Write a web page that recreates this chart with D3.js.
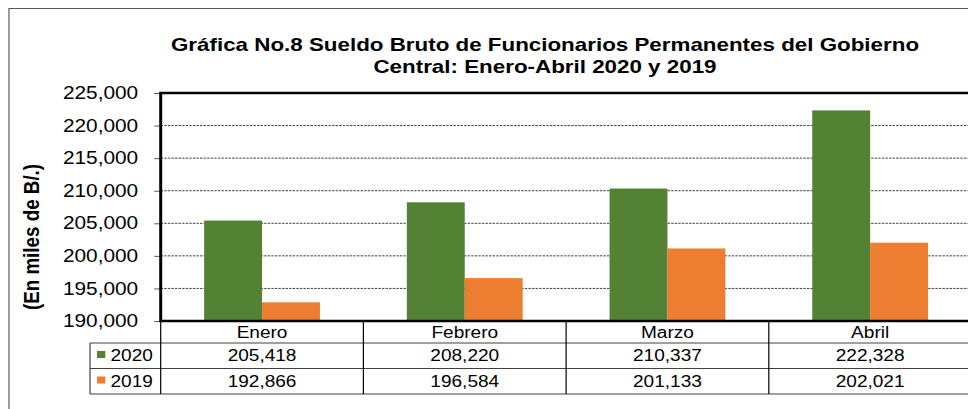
<!DOCTYPE html>
<html>
<head>
<meta charset="utf-8">
<script src="https://cdn.jsdelivr.net/npm/d3@7"></script>
<style>
  body { margin: 0; background: #fff; }
  svg { display: block; }
  text { font-family: "Liberation Sans", Arial, sans-serif; fill: #000; }
</style>
</head>
<body>
<script>

// data
var meses = ["Enero", "Febrero", "Marzo", "Abril"];
var anios = ["2020", "2019"];
var valores2020 = [205418, 208220, 210337, 222328];
var valores2019 = [192866, 196584, 201133, 202021];
var yTicks = [190000, 195000, 200000, 205000, 210000, 215000, 220000, 225000];
var colores = ["#548235", "#ED7D31"];

// the original picture is stretched sideways, so draw in a narrower box and stretch it
var SX = 1.19;
function X(v) { return v / SX; }

var svgWidth = 968;
var svgHeight = 409;
var innerW = svgWidth / SX;

var plot = { left: X(160.7), right: X(971.5), top: 93, bottom: 321 };

var svg = d3.select("body")
  .append("svg")
  .attr("width", svgWidth)
  .attr("height", svgHeight)
  .attr("viewBox", `0 0 ${innerW} ${svgHeight}`)
  .attr("preserveAspectRatio", "none");

svg.append("rect")
  .attr("width", innerW)
  .attr("height", svgHeight)
  .attr("fill", "#fff");

// outer chart frame
svg.append("rect")
  .attr("x", X(9))
  .attr("y", 8.5)
  .attr("width", innerW + 20)
  .attr("height", svgHeight + 20)
  .attr("fill", "none")
  .attr("stroke", "#595959")
  .attr("stroke-width", 1);

// title
var titulo = ["Gráfica No.8 Sueldo Bruto de Funcionarios Permanentes del Gobierno",
              "Central: Enero-Abril 2020 y 2019"];
svg.append("g").selectAll("text")
  .data(titulo)
  .enter()
  .append("text")
    .attr("x", X(545))
    .attr("y", (d, i) => 51 + i * 22)
    .attr("text-anchor", "middle")
    .attr("font-size", "18.8px")
    .attr("font-weight", "bold")
    .text(d => d);

// scales
var xBand = d3.scaleBand()
  .domain(meses)
  .range([plot.left, plot.right]);

var xSerie = d3.scaleBand()
  .domain(anios)
  .range([0, xBand.bandwidth()])
  .paddingOuter(0.75);

var y = d3.scaleLinear()
  .domain([190000, 225000])
  .range([plot.bottom, plot.top]);

// gridlines
svg.append("g").selectAll("line")
  .data(yTicks.slice(1, -1))
  .enter()
  .append("line")
    .attr("x1", plot.left)
    .attr("x2", plot.right)
    .attr("y1", d => y(d))
    .attr("y2", d => y(d))
    .attr("stroke", "#222")
    .attr("stroke-width", 0.8)
    .attr("stroke-dasharray", "2,1");

// bars
var filas = meses.map((m, i) => ({
  mes: m,
  valores: [{ anio: "2020", v: valores2020[i] }, { anio: "2019", v: valores2019[i] }]
}));

var grupos = svg.append("g").selectAll("g")
  .data(filas)
  .enter()
  .append("g")
    .attr("transform", d => `translate(${xBand(d.mes)},0)`);

grupos.selectAll("rect")
  .data(d => d.valores)
  .enter()
  .append("rect")
    .attr("x", d => xSerie(d.anio))
    .attr("y", d => y(d.v))
    .attr("width", xSerie.bandwidth())
    .attr("height", d => plot.bottom - y(d.v))
    .attr("fill", (d, i) => colores[i]);

// y axis
var leftAxis = d3.axisLeft(y)
  .tickValues(yTicks)
  .tickFormat(d3.format(","))
  .tickSize(X(6.5))
  .tickPadding(13.5);

var yAxis = svg.append("g")
  .attr("transform", `translate(${plot.left},0)`)
  .call(leftAxis);

yAxis.select(".domain").remove();
yAxis.selectAll(".tick line").attr("stroke", "#595959");
yAxis.selectAll(".tick text")
  .attr("font-size", "17.5px")
  .attr("font-family", "Liberation Sans, Arial, sans-serif")
  .attr("fill", "#000");

// y axis title
svg.append("text")
  .attr("transform", `translate(${X(39)},237) rotate(-90)`)
  .attr("text-anchor", "middle")
  .attr("font-size", "18.8px")
  .attr("font-weight", "bold")
  .text("(En miles de B/.)");

// data table under the plot
var rowLines = [343, 368.5, 394];
var tabla = svg.append("g");

tabla.selectAll(".hline")
  .data(rowLines)
  .enter()
  .append("line")
    .attr("class", "hline")
    .attr("x1", X(90))
    .attr("x2", plot.right)
    .attr("y1", d => d)
    .attr("y2", d => d)
    .attr("stroke", "#404040")
    .attr("stroke-width", 1);

tabla.selectAll(".vline")
  .data(meses.map(m => xBand(m)).concat([plot.right]))
  .enter()
  .append("line")
    .attr("class", "vline")
    .attr("x1", d => d)
    .attr("x2", d => d)
    .attr("y1", plot.bottom)
    .attr("y2", rowLines[2])
    .attr("stroke", "#000")
    .attr("stroke-width", 1);

tabla.append("line")
  .attr("x1", X(90))
  .attr("x2", X(90))
  .attr("y1", rowLines[0])
  .attr("y2", rowLines[2])
  .attr("stroke", "#404040")
  .attr("stroke-width", 1);

// month names
tabla.selectAll(".mes")
  .data(meses)
  .enter()
  .append("text")
    .attr("class", "mes")
    .attr("x", d => xBand(d) + xBand.bandwidth() / 2)
    .attr("y", 338)
    .attr("text-anchor", "middle")
    .attr("font-size", "16px")
    .text(d => d);

// value rows
var series = [valores2020, valores2019];
var baselines = [361.5, 387];

series.forEach((serie, s) => {
  tabla.selectAll(".val" + s)
    .data(serie)
    .enter()
    .append("text")
      .attr("class", "val" + s)
      .attr("x", (d, i) => xBand(meses[i]) + xBand.bandwidth() / 2)
      .attr("y", baselines[s])
      .attr("text-anchor", "middle")
      .attr("font-size", "16px")
      .text(d => d3.format(",")(d));

  // legend key + year
  tabla.append("rect")
    .attr("x", X(97))
    .attr("y", baselines[s] - 10.5)
    .attr("width", 7)
    .attr("height", 7)
    .attr("fill", colores[s]);

  tabla.append("text")
    .attr("x", X(110.5))
    .attr("y", baselines[s])
    .attr("font-size", "16px")
    .text(anios[s]);
});

// plot area border on top
svg.append("rect")
  .attr("x", plot.left)
  .attr("y", plot.top)
  .attr("width", plot.right - plot.left)
  .attr("height", plot.bottom - plot.top)
  .attr("fill", "none")
  .attr("stroke", "#000")
  .attr("stroke-width", 2.5);

</script>
</body>
</html>
